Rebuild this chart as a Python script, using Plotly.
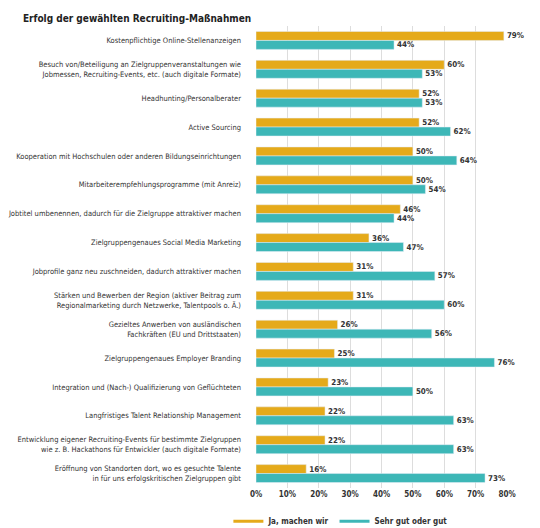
import plotly.graph_objects as go

# Kategorien (von oben nach unten)
massnahmen = [
    "Kostenpflichtige Online-Stellenanzeigen",
    "Besuch von/Beteiligung an Zielgruppenveranstaltungen wie<br>Jobmessen, Recruiting-Events, etc. (auch digitale Formate)",
    "Headhunting/Personalberater",
    "Active Sourcing",
    "Kooperation mit Hochschulen oder anderen Bildungseinrichtungen",
    "Mitarbeiterempfehlungsprogramme (mit Anreiz)",
    "Jobtitel umbenennen, dadurch für die Zielgruppe attraktiver machen",
    "Zielgruppengenaues Social Media Marketing",
    "Jobprofile ganz neu zuschneiden, dadurch attraktiver machen",
    "Stärken und Bewerben der Region (aktiver Beitrag zum<br>Regionalmarketing durch Netzwerke, Talentpools o. Ä.)",
    "Gezieltes Anwerben von ausländischen<br>Fachkräften (EU und Drittstaaten)",
    "Zielgruppengenaues Employer Branding",
    "Integration und (Nach-) Qualifizierung von Geflüchteten",
    "Langfristiges Talent Relationship Management",
    "Entwicklung eigener Recruiting-Events für bestimmte Zielgruppen<br>wie z. B. Hackathons für Entwickler (auch digitale Formate)",
    "Eröffnung von Standorten dort, wo es gesuchte Talente<br>in für uns erfolgskritischen Zielgruppen gibt",
]

# Werte in Prozent
ja_machen_wir = [79, 60, 52, 52, 50, 50, 46, 36, 31, 31, 26, 25, 23, 22, 22, 16]
sehr_gut_gut = [44, 53, 53, 62, 64, 54, 44, 47, 57, 60, 56, 76, 50, 63, 63, 73]

x_ticks = [0, 10, 20, 30, 40, 50, 60, 70, 80]

ORANGE = "#E5AA1A"
TEAL = "#3DB7B7"
FONT = "DejaVu Sans Condensed, DejaVu Sans, sans-serif"

fig = go.Figure()

fig.add_trace(go.Bar(
    y=massnahmen, x=ja_machen_wir, orientation="h",
    marker_color=ORANGE, name="Ja, machen wir", showlegend=False,
    text=[f"<b>{v}%</b>" for v in ja_machen_wir], textposition="outside",
    textfont=dict(size=8, color="#333333", family=FONT), cliponaxis=False,
))
fig.add_trace(go.Bar(
    y=massnahmen, x=sehr_gut_gut, orientation="h",
    marker_color=TEAL, name="Sehr gut oder gut", showlegend=False,
    text=[f"<b>{v}%</b>" for v in sehr_gut_gut], textposition="outside",
    textfont=dict(size=8, color="#333333", family=FONT), cliponaxis=False,
))

# Legende mit Linien-Symbolen
fig.add_trace(go.Scatter(x=[None], y=[None], mode="lines", name="<b>Ja, machen wir</b>",
                         line=dict(color=ORANGE, width=3)))
fig.add_trace(go.Scatter(x=[None], y=[None], mode="lines", name="<b>Sehr gut oder gut</b>",
                         line=dict(color=TEAL, width=3)))

# die Seite hat 8px Rand, daher 532x520
fig.update_layout(
    width=532, height=520,
    margin=dict(l=248, r=33, t=18, b=40, autoexpand=False),
    paper_bgcolor="white", plot_bgcolor="white",
    font=dict(family=FONT, size=7.5, color="#333333"),
    barmode="group", bargap=0.38, bargroupgap=0.0,
    title=dict(text="<b>Erfolg der gewählten Recruiting-Maßnahmen</b>",
               x=0.028, xanchor="left", y=0.979, yanchor="middle",
               font=dict(size=10, color="#222222", family=FONT)),
    legend=dict(orientation="h", x=-0.11, xanchor="left", y=-0.072, yanchor="middle",
                font=dict(size=8), traceorder="normal"),
    xaxis=dict(range=[0, 80], tickvals=x_ticks, ticktext=[f"<b>{t}%</b>" for t in x_ticks],
               showgrid=True, gridcolor="#DDDDDD", gridwidth=1, zeroline=False,
               showline=False, automargin=False, tickfont=dict(size=8)),
    yaxis=dict(autorange="reversed", showgrid=False, showline=False, automargin=False,
               ticks="", ticklabelstandoff=14, tickfont=dict(size=7.5)),
)

fig.write_html("out.html")
